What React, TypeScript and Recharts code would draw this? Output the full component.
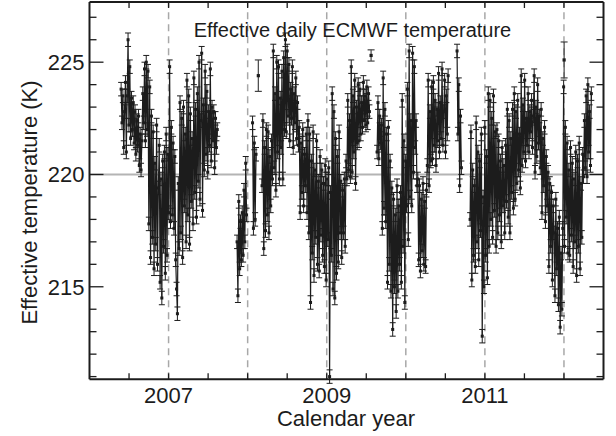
import React from 'react';
import { ComposedChart, Line, Scatter, XAxis, YAxis, ReferenceLine, ErrorBar } from 'recharts';

const W = 616;
const H = 436;
const X_AXIS_H = 30;
const Y_AXIS_W = 60;
const PLOT_LEFT = 89.5;
const PLOT_RIGHT_GAP = 12.5;
const PLOT_TOP = 2;
const PLOT_BOTTOM_GAP = 56.7;
const MARGIN = {
  top: PLOT_TOP,
  right: PLOT_RIGHT_GAP,
  bottom: PLOT_BOTTOM_GAP - X_AXIS_H,
  left: PLOT_LEFT - Y_AXIS_W,
};
const PLOT_W = W - PLOT_LEFT - PLOT_RIGHT_GAP;
const PLOT_H = H - PLOT_TOP - PLOT_BOTTOM_GAP;

const X_DOMAIN = [2006.0, 2012.5];
const Y_DOMAIN = [210.88, 227.68];
const X_TICKS = [2006.5, 2007, 2007.5, 2008, 2008.5, 2009, 2009.5, 2010, 2010.5, 2011, 2011.5, 2012];
const X_LABELS = [2007, 2009, 2011];
const Y_TICKS = [211, 212, 213, 214, 215, 216, 217, 218, 219, 220, 221, 222, 223, 224, 225, 226, 227];
const Y_LABELS = [215, 220, 225];
const YEAR_LINES = [2007, 2008, 2009, 2010, 2011, 2012];
const MEAN_LEVEL = 220;

const TITLE = 'Effective daily ECMWF temperature';
const X_TITLE = 'Calendar year';
const Y_TITLE = 'Effective temperature (K)';

// sampling interval of the read-off values (every 4th day)
const STEP_YEARS = 4 / 365.25;

const segmentStart = [2006.4, 2007.866, 2008.062, 2008.182, 2009.637, 2010.648, 2010.813];
const segmentError = [0.3, 0.3, 0.3, 0.3, 0.3, 0.3, 0.3];

const seg2006 = [
  223.8, 222.3, 223.5, 221.2,
  222.8, 224.1, 221.0,
  223.5, 226.0, 222.2, 224.8,
  221.6, 223.4, 222.0, 223.2, 221.4,
  222.8, 220.9, 222.4, 221.3, 222.6, 220.4, 221.8, 220.2, 221.5,
  223.6,
  222.3, 224.7, 221.5,
  225.0, 222.0, 224.6, 217.8, 223.9,
  216.3, 222.6, 217.2,
  221.9, 215.8, 220.5, 216.9, 222.2, 216.0, 219.4,
  221.3, 215.2, 219.8, 214.5, 220.6, 216.8, 221.0, 215.6,
  221.8, 216.4, 220.9, 218.3, 224.8, 217.9,
  222.1, 218.2, 221.4, 217.6, 220.8,
  216.2, 214.9, 213.8, 219.6,
  216.7, 223.2, 217.4, 222.5, 216.3, 223.0, 218.6, 221.8,
  217.0, 224.2, 218.2, 223.5, 216.9, 222.7, 218.8, 221.6,
  217.8, 224.3, 219.2, 222.9, 218.1, 223.6, 219.7,
  225.0, 218.9, 222.4, 225.4, 218.4, 223.1, 220.2,
  224.6, 220.9, 223.7, 220.1, 222.8, 221.3, 224.7,
  220.6, 223.0, 221.5, 222.8, 220.3, 222.5, 221.2, 222.0,
];

const segLate2007 = [217.0, 214.6, 218.8, 215.8, 217.9, 216.2, 218.3, 216.4, 219.3, 217.0, 220.5, 218.2];

const segEarly2008 = [222.3, 217.6, 221.4, 218.0, 220.9];

const seg2008 = [
  219.5, 222.4, 216.7, 221.2, 217.5, 222.0,
  218.2, 221.9, 217.4, 220.8, 218.6, 221.5,
  219.8, 225.5, 220.3, 223.6,
  219.3, 225.0, 221.0, 224.8, 219.8, 223.4,
  221.2, 224.6, 219.8, 225.2, 222.0, 226.0,
  221.9, 225.5, 222.6, 224.9, 221.5, 223.8,
  222.5, 224.8, 221.2, 223.6, 222.3, 224.3, 221.6, 223.2, 221.3,
  222.1, 218.3, 221.4, 219.2, 222.0, 218.6, 220.9, 219.5, 221.8, 218.3,
  222.4, 217.4, 221.8, 214.3, 220.6, 216.5,
  221.9, 215.5, 220.2, 217.2, 221.5, 216.0, 219.7,
  215.7, 220.8, 217.3, 220.2, 216.4, 219.6, 215.9, 220.4,
  215.3, 219.8, 217.1, 220.3,
  211.0, 219.2, 216.4, 223.6, 214.9,
  222.8, 214.5, 221.6, 215.6, 220.8,
  216.1, 221.9, 217.4, 219.7,
  216.3, 219.3, 217.4, 219.8, 216.8, 220.6,
  219.8, 223.3, 220.2, 222.4, 219.9, 224.8,
  220.1, 223.5, 221.0, 224.2, 219.6, 223.0, 221.4, 224.0,
  221.5, 223.8, 221.8, 223.2, 222.1, 224.1,
  222.4, 223.5, 222.2, 223.9, 222.3, 223.6, 222.8,
];

const seg2009 = [
  221.0, 223.2, 220.7, 222.6, 221.4, 222.2,
  217.6, 224.3, 218.5, 222.9, 217.9, 221.8,
  215.2, 222.1, 216.0, 220.6, 214.8, 219.4,
  213.1, 218.9, 215.0, 218.2,
  213.9, 219.5, 214.8, 218.6, 216.0, 219.2,
  215.2, 223.3, 216.8, 221.5, 214.3, 220.6,
  218.6, 223.8, 217.1, 225.5, 219.0, 222.4, 218.6,
  225.4, 220.1, 224.8, 221.2, 222.4, 219.5,
  219.8, 216.2, 219.5, 215.7, 218.9, 216.6, 219.6, 216.0, 218.8, 215.9, 219.3,
  220.4, 224.2, 219.5, 222.8, 220.6, 223.9,
  220.7, 224.1, 221.3, 223.3, 220.4, 222.9, 221.5,
  224.5, 221.0, 223.2, 221.6, 224.7, 221.3, 222.8, 224.2, 221.0, 223.5, 221.8, 224.4,
];

const segMid2010 = [225.5, 221.8, 224.0, 219.5, 222.6, 220.3];

const seg2011 = [
  218.0, 221.9, 215.3, 220.2, 216.4, 219.5,
  215.9, 222.3, 217.0, 221.0, 216.2, 220.6, 217.5, 221.8,
  212.8, 219.0,
  215.0, 222.1, 216.4, 220.8, 215.4, 223.6,
  216.8, 223.3, 218.0, 222.5, 217.2, 223.5, 218.4, 221.9, 216.8, 222.0,
  217.4, 221.5, 218.2, 220.6, 217.0, 221.2, 218.6, 220.4, 217.4, 221.3, 218.8, 222.9,
  218.1, 222.4, 217.4, 221.6, 219.2, 222.9, 218.5,
  223.6, 218.9, 222.8, 219.6, 223.3, 220.2, 221.8, 219.4,
  224.4, 220.4, 223.1, 221.0, 224.2, 220.6, 222.5, 221.3,
  223.6, 221.0, 222.8, 221.9, 223.3, 221.2, 222.6,
  224.4, 220.1, 223.0, 220.8, 224.0, 221.4, 222.6, 220.3,
  222.9, 218.3, 221.6, 219.5, 222.1, 217.9, 220.8, 218.6,
  220.1, 215.9, 219.6, 216.8, 219.2, 215.3, 218.6,
  217.4, 214.6, 218.9, 215.8, 217.6, 214.2, 218.1, 213.2, 216.5, 214.0,
  217.6, 223.9, 216.8, 222.1, 218.1, 221.4, 216.5, 220.2,
  216.4, 221.2, 217.3, 220.5, 215.9, 219.8, 217.0, 221.0,
  215.5, 220.6, 216.8, 221.4, 215.8, 219.6, 217.2, 220.9,
  219.9, 222.4, 220.3, 223.5, 219.9, 224.0, 221.0, 222.8, 220.4, 223.6,
];

const segmentValues = [seg2006, segLate2007, segEarly2008, seg2008, seg2009, segMid2010, seg2011];

// isolated single days with larger uncertainties
const isolatedT = [2008.135, 2009.561, 2012.002];
const isolatedV = [224.4, 225.3, 225.1];
const isolatedE = [0.7, 0.25, 0.8];

type Row = { t: number; v: number | null; e: number | null };

const lineData: Row[] = [];
segmentValues.forEach((vals, s) => {
  vals.forEach((v, i) => {
    lineData.push({ t: segmentStart[s] + i * STEP_YEARS, v, e: segmentError[s] });
  });
  const last = segmentStart[s] + (vals.length - 1) * STEP_YEARS;
  lineData.push({ t: last + STEP_YEARS / 2, v: null, e: null });
});

const isolatedData: Row[] = isolatedT.map((t, i) => ({ t, v: isolatedV[i], e: isolatedE[i] }));

const INK = '#1c1c1c';
const FONT = '"Liberation Sans", Arial, Helvetica, sans-serif';

const XTick = (props: any) => {
  const { x, payload } = props;
  const v = payload.value as number;
  const bottom = PLOT_TOP + PLOT_H;
  const top = PLOT_TOP;
  return (
    <g>
      <line x1={x} y1={bottom} x2={x} y2={bottom - 6} stroke={INK} strokeWidth={1.3} />
      <line x1={x} y1={top} x2={x} y2={top + 6} stroke={INK} strokeWidth={1.3} />
      {X_LABELS.includes(v) && (
        <text x={x} y={402.5} textAnchor="middle" fontSize={22} fontFamily={FONT} fill={INK}>
          {v}
        </text>
      )}
    </g>
  );
};

const YTick = (props: any) => {
  const { y, payload } = props;
  const v = payload.value as number;
  const major = Y_LABELS.includes(v);
  const len = major ? 14 : 7;
  const left = PLOT_LEFT;
  const right = PLOT_LEFT + PLOT_W;
  return (
    <g>
      <line x1={left} y1={y} x2={left + len} y2={y} stroke={INK} strokeWidth={1.3} />
      <line x1={right} y1={y} x2={right - len} y2={y} stroke={INK} strokeWidth={1.3} />
      {major && (
        <text x={left - 5} y={y + 8} textAnchor="end" fontSize={22} fontFamily={FONT} fill={INK}>
          {v}
        </text>
      )}
    </g>
  );
};

const SquareDot = (props: any) => {
  const { cx, cy } = props;
  if (cx == null || cy == null || props.value == null) return <g />;
  return <rect x={cx - 1.5} y={cy - 1.5} width={3} height={3} fill={INK} />;
};

const ScatterSquare = (props: any) => {
  const { cx, cy } = props;
  return <rect x={cx - 1.6} y={cy - 1.6} width={3.2} height={3.2} fill={INK} />;
};

export default function App() {
  return (
    <div style={{ position: 'absolute', left: 0, top: 0, width: W, height: H, background: '#fff' }}>
      <ComposedChart width={W} height={H} margin={MARGIN}>
        <XAxis
          dataKey="t"
          type="number"
          domain={X_DOMAIN}
          ticks={X_TICKS}
          interval={0}
          allowDataOverflow
          height={X_AXIS_H}
          tickSize={0}
          tickMargin={0}
          tick={<XTick />}
          tickLine={false}
          axisLine={{ stroke: INK, strokeWidth: 2 }}
        />
        <YAxis
          type="number"
          domain={Y_DOMAIN}
          ticks={Y_TICKS}
          interval={0}
          allowDataOverflow
          width={Y_AXIS_W}
          tickSize={0}
          tickMargin={0}
          tick={<YTick />}
          tickLine={false}
          axisLine={{ stroke: INK, strokeWidth: 2 }}
        />
        <ReferenceLine y={MEAN_LEVEL} stroke="#b4b4b4" strokeWidth={2} />
        {YEAR_LINES.map((yr) => (
          <ReferenceLine key={yr} x={yr} stroke="#a8a8a8" strokeWidth={1.5} strokeDasharray="7 5" />
        ))}
        <ReferenceLine y={Y_DOMAIN[1]} stroke={INK} strokeWidth={2} />
        <ReferenceLine x={X_DOMAIN[1]} stroke={INK} strokeWidth={2} />
        <Line
          data={lineData}
          dataKey="v"
          type="linear"
          stroke={INK}
          strokeWidth={1.2}
          dot={<SquareDot />}
          activeDot={false}
          isAnimationActive={false}
          connectNulls={false}
        >
          <ErrorBar dataKey="e" width={3} stroke={INK} strokeWidth={1} direction="y" />
        </Line>
        <Scatter data={isolatedData} dataKey="v" shape={<ScatterSquare />} isAnimationActive={false}>
          <ErrorBar dataKey="e" width={3.5} stroke="#444" strokeWidth={1.2} direction="y" />
        </Scatter>
      </ComposedChart>
      <svg
        width={W}
        height={H}
        style={{ position: 'absolute', left: 0, top: 0, pointerEvents: 'none' }}
      >
        <text x={352.5} y={37} textAnchor="middle" fontSize={20} fontFamily={FONT} fill={INK}>
          {TITLE}
        </text>
        <text x={346} y={426} textAnchor="middle" fontSize={22} fontFamily={FONT} fill={INK}>
          {X_TITLE}
        </text>
        <text
          x={36.5}
          y={202.5}
          textAnchor="middle"
          fontSize={22}
          fontFamily={FONT}
          fill={INK}
          transform="rotate(-90, 36.5, 202.5)"
        >
          {Y_TITLE}
        </text>
      </svg>
    </div>
  );
}
